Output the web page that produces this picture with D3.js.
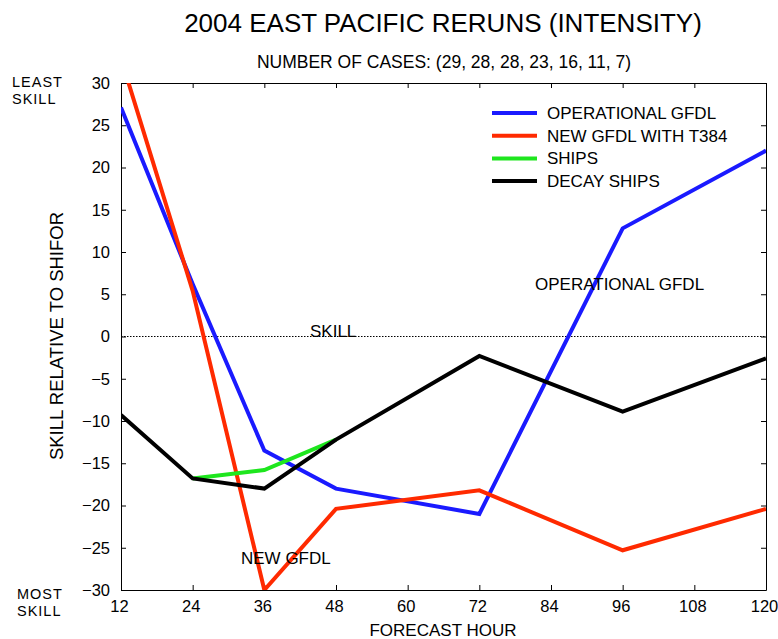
<!DOCTYPE html>
<html>
<head>
  <meta charset="utf-8">
  <script src="https://d3js.org/d3.v7.min.js"></script>
  <style>
    body { margin: 0; background: #fff; }
    text { font-family: "Liberation Sans", Arial, sans-serif; fill: #000; }
    .tick line { stroke: #000; }
    path.domain { stroke: #000; }
  </style>
</head>
<body>
<script>
  // forecast hours and skill values
  var hours = [12, 24, 36, 48, 72, 96, 120];
  var operational = [27.1, 6.2, -13.5, -18, -21, 12.8, 22];
  var newGfdl = [32.9, 5.4, -30, -20.4, -18.2, -25.3, -20.4];
  var shipsHours = [24, 36, 48];
  var ships = [-16.8, -15.8, -12.2];
  var decayShips = [-9.3, -16.8, -18, -12.2, -2.3, -8.9, -2.6];
  var xTicks = [12, 24, 36, 48, 60, 72, 84, 96, 108, 120];
  var yTicks = [-30, -25, -20, -15, -10, -5, 0, 5, 10, 15, 20, 25, 30];

  var width = 778, height = 639;
  var margin = {top: 83, right: 12, bottom: 49, left: 121};

  var svg = d3.select('body').append('svg')
    .attr('width', width)
    .attr('height', height);

  var x = d3.scaleLinear().domain([12, 120]).range([margin.left, width - margin.right]);
  var y = d3.scaleLinear().domain([-30, 30]).range([height - margin.bottom, margin.top]);

  svg.append('defs').append('clipPath').attr('id', 'plot')
    .append('rect')
    .attr('x', x(12)).attr('y', y(30))
    .attr('width', x(120) - x(12)).attr('height', y(-30) - y(30));

  // zero line
  svg.append('line')
    .attr('x1', x(12)).attr('x2', x(120))
    .attr('y1', y(0)).attr('y2', y(0))
    .attr('stroke', '#000').attr('stroke-width', 1)
    .attr('stroke-dasharray', '1.5,1.5');

  // axes with inward ticks on all sides
  var fmt = d => d < 0 ? '\u2212' + Math.abs(d) : d;
  svg.append('g').attr('transform', `translate(-2,${y(-30)})`)
    .call(d3.axisBottom(x).tickValues(xTicks).tickSizeInner(-5).tickSizeOuter(0).tickPadding(10))
    .call(g => g.selectAll('text').style('font-size', '16.5px'))
    .call(g => g.selectAll('.tick line').attr('transform', 'translate(2,0)'))
    .call(g => g.select('.domain').attr('transform', 'translate(2,0)'));
  svg.append('g').attr('transform', `translate(0,${y(30)})`)
    .call(d3.axisTop(x).tickValues(xTicks).tickSizeInner(-5).tickSizeOuter(0).tickFormat(''));
  svg.append('g').attr('transform', `translate(${x(12)},0)`)
    .call(d3.axisLeft(y).tickValues(yTicks).tickSizeInner(-5).tickSizeOuter(0).tickPadding(11).tickFormat(fmt))
    .call(g => g.selectAll('text').style('font-size', '16.5px'));
  svg.append('g').attr('transform', `translate(${x(120)},0)`)
    .call(d3.axisRight(y).tickValues(yTicks).tickSizeInner(-5).tickSizeOuter(0).tickFormat(''));

  var line = d3.line().x(d => x(d[0])).y(d => y(d[1]));
  var series = [
    {name: 'OPERATIONAL GFDL', color: '#1a1aff', pts: d3.zip(hours, operational)},
    {name: 'NEW GFDL WITH T384', color: '#ff2a00', pts: d3.zip(hours, newGfdl)},
    {name: 'SHIPS', color: '#1ee61e', pts: d3.zip(shipsHours, ships)},
    {name: 'DECAY SHIPS', color: '#000000', pts: d3.zip(hours, decayShips)}
  ];

  svg.append('g').attr('clip-path', 'url(#plot)')
    .selectAll('path')
    .data(series)
    .enter().append('path')
    .attr('d', d => line(d.pts))
    .attr('fill', 'none')
    .attr('stroke', d => d.color)
    .attr('stroke-width', 4)
    .attr('stroke-linejoin', 'miter');

  // legend
  var legend = svg.append('g').selectAll('g')
    .data(series)
    .enter().append('g')
    .attr('transform', (d, i) => `translate(492,${113 + i * 22.7})`);
  legend.append('line')
    .attr('x1', 0).attr('x2', 45)
    .attr('stroke', d => d.color).attr('stroke-width', 4);
  legend.append('text')
    .attr('x', 55).attr('y', 6)
    .style('font-size', '17px')
    .text(d => d.name);

  // titles and annotations
  svg.append('text').attr('x', 443).attr('y', 32)
    .style('text-anchor', 'middle').style('font-size', '26px')
    .text('2004 EAST PACIFIC RERUNS (INTENSITY)');
  svg.append('text').attr('x', 444).attr('y', 68)
    .style('text-anchor', 'middle').style('font-size', '17.5px')
    .text('NUMBER OF CASES: (29, 28, 28, 23, 16, 11, 7)');
  svg.append('text').attr('x', 443).attr('y', 636)
    .style('text-anchor', 'middle').style('font-size', '17px')
    .text('FORECAST HOUR');
  svg.append('text')
    .attr('transform', 'translate(63,336) rotate(-90)')
    .style('text-anchor', 'middle').style('font-size', '18.5px')
    .text('SKILL RELATIVE TO SHIFOR');

  // two-line end labels
  var ends = [
    ['LEAST', 12, 87], ['SKILL', 12, 103.5],
    ['MOST', 17, 599], ['SKILL', 17, 615.5]
  ];
  svg.selectAll('text.end')
    .data(ends)
    .enter().append('text')
    .attr('class', 'end')
    .attr('x', d => d[1]).attr('y', d => d[2])
    .style('font-size', '14.5px')
    .style('letter-spacing', '1px')
    .text(d => d[0]);

  var notes = [
    ['OPERATIONAL GFDL', 535, 290], ['SKILL', 310, 337], ['NEW GFDL', 241, 564]
  ];
  svg.selectAll('text.note')
    .data(notes)
    .enter().append('text')
    .attr('class', 'note')
    .attr('x', d => d[1]).attr('y', d => d[2])
    .style('font-size', '17px')
    .text(d => d[0]);
</script>
</body>
</html>
